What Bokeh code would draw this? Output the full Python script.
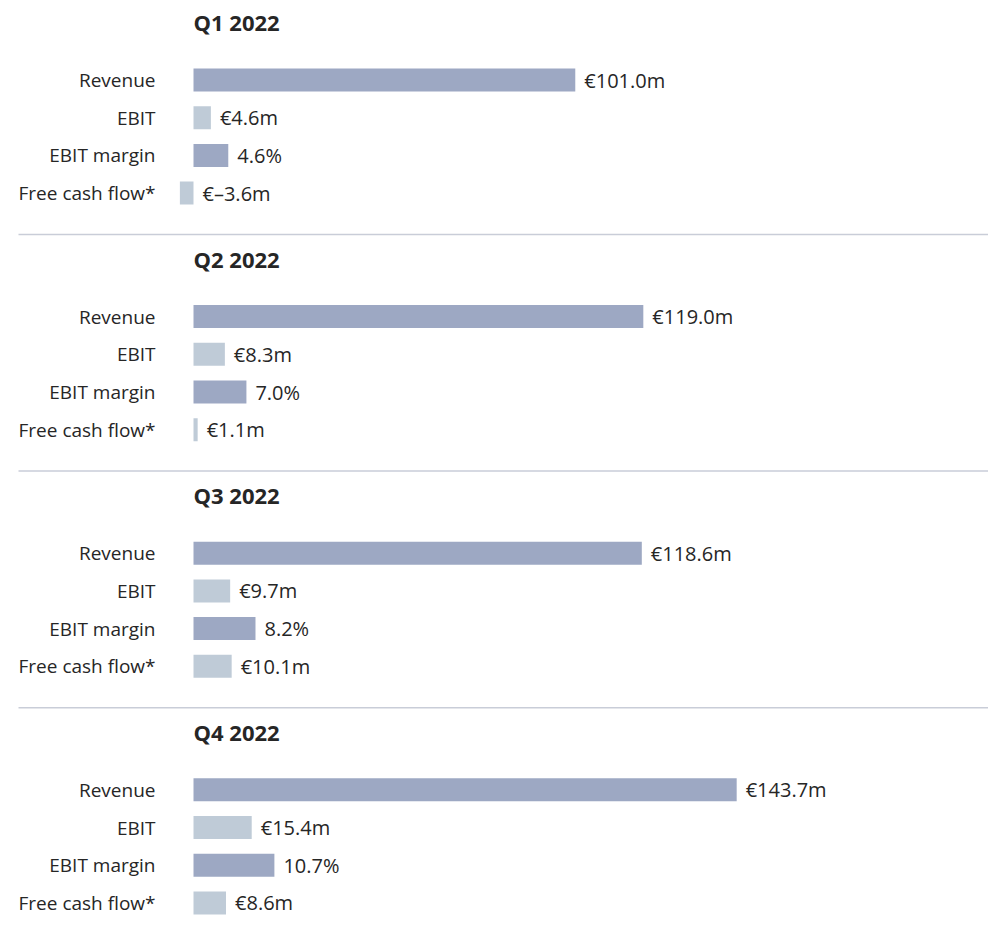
from bokeh.plotting import figure
from bokeh.models import Range1d, ColumnDataSource
from bokeh.core.properties import value
from bokeh.embed import file_html
from bokeh.resources import INLINE

# ---- data ----
quarters = ["Q1 2022", "Q2 2022", "Q3 2022", "Q4 2022"]
metrics = ["Revenue", "EBIT", "EBIT margin", "Free cash flow*"]
revenue = [101.0, 119.0, 118.6, 143.7]        # € m
ebit = [4.6, 8.3, 9.7, 15.4]                   # € m
ebit_margin = [4.6, 7.0, 8.2, 10.7]            # %
free_cash_flow = [-3.6, 1.1, 10.1, 8.6]        # € m

# ---- styling / layout constants ----
DARK = "#9da8c3"
LIGHT = "#bfcbd7"
TEXT = "#262626"
SEP = "#c9cdd8"
FONT = "Open Sans"
PX_PER_UNIT = 3.78          # pixels per € m
MARGIN_FACTOR = 2.0         # % drawn at twice the € m scale
W, H = 988, 936
ZERO_PX = 193               # x pixel of zero inside the figure
TOP = 0
PANEL_PITCH = 236.6
ROW0 = 79.5
ROW_PITCH = 37.7
TITLE_Y = 21.5
SEP_Y = 234
BAR_H = 23

x_start = -ZERO_PX / PX_PER_UNIT
x_end = (W - ZERO_PX) / PX_PER_UNIT

p = figure(width=W, height=H, output_backend="svg", toolbar_location=None,
           x_range=Range1d(x_start, x_end), y_range=Range1d(TOP + H, TOP),
           min_border=0, outline_line_color=None, background_fill_color="white",
           border_fill_color="white")
p.axis.visible = False
p.xgrid.visible = False
p.ygrid.visible = False


def fmt_money(v):
    s = f"{abs(v):.1f}"
    return ("€–" if v < 0 else "€") + s + "m"


ys, lefts, rights, colors, vals_txt, txt_x, cat_txt = [], [], [], [], [], [], []
title_y, sep_y = [], []
for i, q in enumerate(quarters):
    base = i * PANEL_PITCH
    title_y.append(base + TITLE_Y)
    if i < len(quarters) - 1:
        sep_y.append(base + SEP_Y)
    rows = [
        (revenue[i], DARK, fmt_money(revenue[i])),
        (ebit[i], LIGHT, fmt_money(ebit[i])),
        (ebit_margin[i] * MARGIN_FACTOR, DARK, f"{ebit_margin[i]:.1f}%"),
        (free_cash_flow[i], LIGHT, fmt_money(free_cash_flow[i])),
    ]
    for j, (plot_v, col, lab) in enumerate(rows):
        y = base + ROW0 + j * ROW_PITCH
        ys.append(y)
        lefts.append(min(0, plot_v))
        rights.append(max(0, plot_v))
        colors.append(col)
        vals_txt.append(lab)
        txt_x.append(max(0, plot_v))
        cat_txt.append(metrics[j])

src = ColumnDataSource(dict(y=ys, left=lefts, right=rights, color=colors,
                            lab=vals_txt, lx=txt_x, cat=cat_txt,
                            zero=[0] * len(ys)))

p.hbar(y="y", left="left", right="right", height=BAR_H, fill_color="color",
       line_color=None, source=src)

p.text(x="lx", y="y", text="lab", x_offset=9, text_align="left",
       text_baseline="middle", text_font=value(FONT), text_font_size="20px",
       text_color=TEXT, source=src)

p.text(x="zero", y="y", text="cat", x_offset=-38, text_align="right",
       text_baseline="middle", text_font=value(FONT), text_font_size="19px",
       text_color=TEXT, source=src)

p.text(x=[0] * len(quarters), y=title_y, text=quarters, text_align="left",
       text_baseline="middle", text_font=value(FONT), text_font_size="22px",
       text_font_style="bold", text_color=TEXT)

sep_x0 = x_start + 18 / PX_PER_UNIT
p.segment(x0=[sep_x0] * len(sep_y), x1=[x_end] * len(sep_y), y0=sep_y, y1=sep_y,
          line_color=SEP, line_width=1.5)

open("out.html", "w").write(file_html(p, INLINE))
